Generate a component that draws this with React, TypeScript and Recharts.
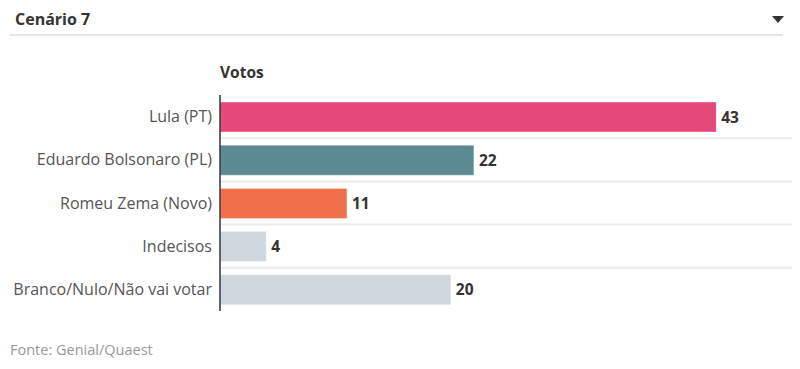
import React from "react";
import { BarChart, Bar, XAxis, YAxis, CartesianGrid, Cell, LabelList } from "recharts";

const candidates = [
  "Lula (PT)",
  "Eduardo Bolsonaro (PL)",
  "Romeu Zema (Novo)",
  "Indecisos",
  "Branco/Nulo/Não vai votar",
];
const votes = [43, 22, 11, 4, 20];
const colors = ["#e5497a", "#5b8a92", "#f0704a", "#cfd7de", "#cfd7de"];

const data = candidates.map((name, i) => ({ name, votos: votes[i], fill: colors[i] }));

const font = "'Open Sans', 'Noto Sans', sans-serif";

export default function App() {
  return (
    <div style={{ position: "relative", width: 784, height: 353, fontFamily: font }}>
      <div
        style={{
          position: "absolute",
          left: 7,
          top: 0,
          height: 24,
          lineHeight: "22px",
          fontSize: 16,
          fontWeight: 700,
          color: "#333",
        }}
      >
        Cenário 7
      </div>
      <div
        style={{
          position: "absolute",
          right: 8,
          top: 8,
          width: 0,
          height: 0,
          borderLeft: "6px solid transparent",
          borderRight: "6px solid transparent",
          borderTop: "7px solid #333",
        }}
      />
      <div
        style={{
          position: "absolute",
          left: 2,
          top: 26,
          width: 773,
          height: 2,
          background: "#e6e6e6",
        }}
      />
      <div
        style={{
          position: "absolute",
          left: 212,
          top: 56,
          lineHeight: "16px",
          fontSize: 15.5,
          fontWeight: 700,
          color: "#333",
        }}
      >
        Votos
      </div>
      <div style={{ position: "absolute", left: 0, top: 87 }}>
        <BarChart
          width={792}
          height={216}
          data={data}
          layout="vertical"
          margin={{ top: 0, right: 3, bottom: 0, left: 0 }}
          barSize={30}
        >
          <CartesianGrid
            vertical={false}
            stroke="#ebebeb"
            strokeWidth={2}
            horizontalCoordinatesGenerator={({ offset }: any) =>
              [1, 2, 3, 4].map((i) => offset.top + (i * offset.height) / candidates.length)
            }
          />
          <XAxis type="number" domain={[0, 50]} hide />
          <YAxis
            type="category"
            dataKey="name"
            width={212}
            tickLine={false}
            axisLine={{ stroke: "#333", strokeWidth: 1.5 }}
            tick={{ fill: "#555", fontSize: 16, fontFamily: font }}
            interval={0}
          />
          <Bar dataKey="votos" isAnimationActive={false} stroke="#ffffff" strokeOpacity={0.35}>
            {data.map((d) => (
              <Cell key={d.name} fill={d.fill} />
            ))}
            <LabelList
              dataKey="votos"
              position="right"
              offset={5}
              style={{ fill: "#333", fontSize: 15.5, fontWeight: 700, fontFamily: font }}
            />
          </Bar>
        </BarChart>
      </div>
      <div
        style={{
          position: "absolute",
          left: 2,
          top: 332,
          fontSize: 14.5,
          color: "#999",
          lineHeight: "20px",
        }}
      >
        Fonte: Genial/Quaest
      </div>
    </div>
  );
}
